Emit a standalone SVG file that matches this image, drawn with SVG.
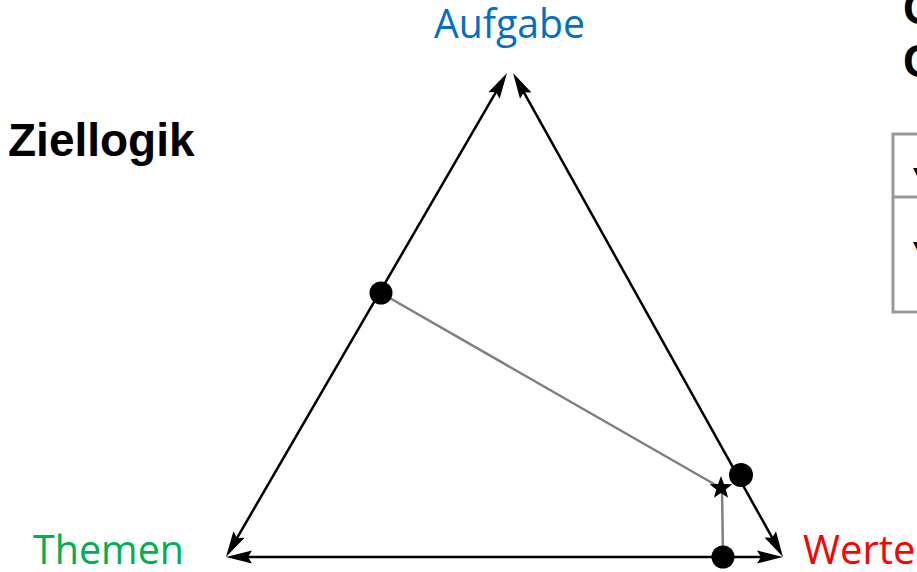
<svg xmlns="http://www.w3.org/2000/svg" width="917" height="572" viewBox="0 0 917 572">
<style>
.edge{stroke:#000;stroke-width:2.5;fill:none;marker-start:url(#ah);marker-end:url(#ah)}
.gray{stroke:#808080;stroke-width:2.5;fill:none}
.dot{fill:#000}
.lbl{font-family:"Open Sans","Noto Sans",sans-serif;font-size:40px}
.bold{font-family:"Liberation Sans",Arial,sans-serif;font-weight:bold;font-size:46px;fill:#000}
.mark{font-family:"DejaVu Sans",sans-serif;font-size:11px;fill:#000}
</style>
<defs>
<marker id="ah" markerUnits="userSpaceOnUse" markerWidth="28" markerHeight="14" viewBox="0 0 28 14" refX="16" refY="7" orient="auto-start-reverse">
<path d="M0,0.5 L26,7 L0,13.5 L4,7 z" fill="#000"/>
</marker>
</defs>
<rect width="917" height="572" fill="#fff"/>
<g id="title"><text class="bold" x="8" y="156">Ziellogik</text></g>
<g id="topright">
<text class="bold" x="903" y="24">C</text>
<text class="bold" x="903" y="77">C</text>
</g>
<g id="table">
<rect x="893" y="134" width="40" height="178" fill="none" stroke="#999" stroke-width="3"/>
<line x1="893" y1="197" x2="917" y2="197" stroke="#999" stroke-width="3"/>
<text class="mark" x="913" y="175">▼</text>
<text class="mark" x="913" y="249">▼</text>
</g>
<g id="connectors">
<line class="edge" x1="502" y1="81.6" x2="231" y2="548.4"/>
<line class="edge" x1="517.9" y1="81.7" x2="778.1" y2="548.3"/>
<line class="edge" x1="236" y1="557" x2="773" y2="557"/>
<line class="gray" x1="381" y1="293" x2="721" y2="488"/>
<line class="gray" x1="722" y1="488" x2="723" y2="557"/>
</g>
<g id="node-aufgabe"><text class="lbl" x="434" y="38" fill="#0070C0" textLength="151" lengthAdjust="spacingAndGlyphs">Aufgabe</text></g>
<g id="node-themen"><text class="lbl" x="33" y="564" fill="#00B050" textLength="151" lengthAdjust="spacingAndGlyphs">Themen</text></g>
<g id="node-werte"><text class="lbl" x="803" y="564" fill="#FF0000">Werte</text></g>
<g id="dot-left"><circle class="dot" cx="381" cy="293" r="11.5"/></g>
<g id="dot-right"><circle class="dot" cx="741" cy="475" r="12"/></g>
<g id="dot-bottom"><circle class="dot" cx="723" cy="557" r="11.5"/></g>
<g id="star"><polygon class="dot" points="721,476 723.94,483.95 732.41,484.29 725.76,489.55 728.05,497.71 721,493 713.95,497.71 716.24,489.55 709.59,484.29 718.06,483.95"/></g>
</svg>
